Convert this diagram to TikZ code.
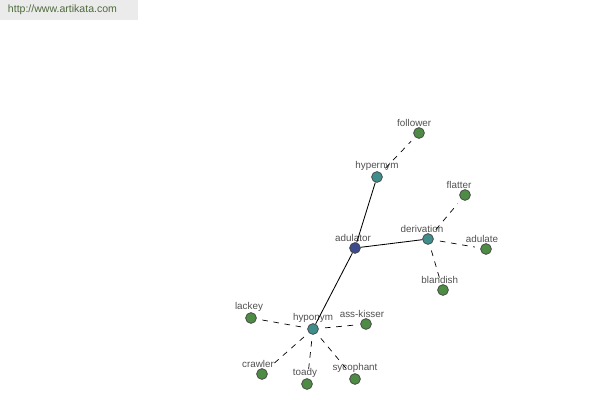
\documentclass[tikz,border=0pt]{standalone}
\usepackage{fontspec}
\setmainfont{Liberation Sans}
\usepackage{xcolor}
\definecolor{headgray}{HTML}{EBEBEB}
\definecolor{headtext}{HTML}{4E6B3C}
\definecolor{rootblue}{HTML}{3C4A8E}
\definecolor{reltea}{HTML}{3F8E8C}
\definecolor{leafgreen}{HTML}{4E8B45}
\definecolor{tagtext}{HTML}{505050}
\tikzset{
    	every node/.append style={font=\fontsize{7}{8}\selectfont}}

\begin{document}
\begin{tikzpicture}
  [x=0.025cm,y=-0.025cm,
   word/.style={circle,draw=black!75,line width=0.5pt,inner sep=0pt,minimum size=0.27cm},
   tag/.style={draw=none,fill=none,rectangle,inner sep=0.5pt,text=tagtext},
   every label/.style={tag},
   label distance=0pt]
  \useasboundingbox (0,0) rectangle (600,400);
  \node [fill=headgray,minimum width=138*0.025cm,minimum height=20*0.025cm,inner sep=0pt,anchor=north west] (site) at (0,0) {};
  \node [text=headtext,font=\fontsize{7.5}{9}\selectfont,anchor=west] (url) at (3,10) {http://www.artikata.com};

  \node [word,fill=rootblue,label={[xshift=-0.05cm]above:adulator}] (n0) at (355,248) {};
  \node [word,fill=reltea,label=above:hypernym] (n1) at (377,177) {};
  \node [word,fill=reltea,label={[xshift=-0.15cm]above:derivation}] (n2) at (428,239) {};
  \node [word,fill=reltea,label=above:hyponym] (n3) at (313,329) {};
  \node [word,fill=leafgreen,label={[xshift=-0.12cm]above:follower}] (n4) at (419,133) {};
  \node [word,fill=leafgreen,label={[xshift=-0.15cm]above:flatter}] (n5) at (465,195) {};
  \node [word,fill=leafgreen,label={[xshift=-0.1cm]above:adulate}] (n6) at (486,249) {};
  \node [word,fill=leafgreen,label={[xshift=-0.08cm]above:blandish}] (n7) at (443,290) {};
  \node [word,fill=leafgreen,label={[xshift=-0.05cm]above:lackey}] (n8) at (251,318) {};
  \node [word,fill=leafgreen,label={[xshift=-0.1cm]above:ass-kisser}] (n9) at (366,324) {};
  \node [word,fill=leafgreen,label={[xshift=-0.1cm]above:crawler}] (n10) at (262,374) {};
  \node [word,fill=leafgreen,label={[xshift=-0.05cm]above:toady}] (n11) at (307,384) {};
  \node [word,fill=leafgreen,label=above:sycophant] (n12) at (355,379) {};

  \foreach \from/\to in {n0/n1,n0/n2,n0/n3}
    \draw[line width=0.6pt] (\from) -- (\to);

  \foreach \from/\to in {n1/n4,n2/n5,n2/n6,n2/n7,n3/n8,n3/n9,n3/n10,n3/n11,n3/n12}
    \draw[dash pattern=on 4pt off 4pt,line width=0.5pt,shorten <=4.5pt,shorten >=4pt] (\from) -- (\to);
\end{tikzpicture}
\end{document}
